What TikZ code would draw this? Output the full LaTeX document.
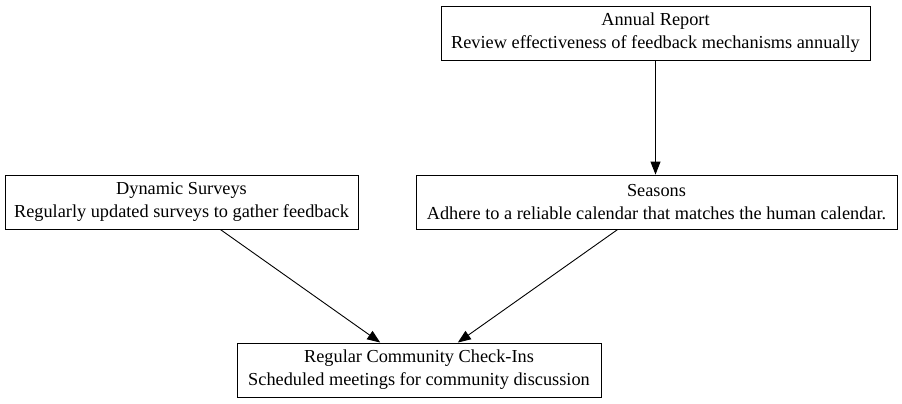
\documentclass[tikz,border=0pt]{standalone}
\usepackage{fontspec}
\setmainfont{Liberation Serif}
\usetikzlibrary{arrows.meta}
\tikzset{
  box/.style={draw, line width=0.9pt, align=center, inner sep=0pt,
    minimum height=54pt, font=\fontsize{18.3}{23}\selectfont},
}
\begin{document}
\begin{tikzpicture}[x=1pt, y=-1pt]
      \useasboundingbox (0,0) rectangle (902,404);
      \draw
        (655.5,33) node[box, minimum width=429pt] (annual){Annual Report\\Review effectiveness of feedback mechanisms annually}
        (181.5,202) node[box, minimum width=353pt] (surveys){Dynamic Surveys\\Regularly updated surveys to gather feedback}
        (656.5,202) node[box, minimum width=481pt] (seasons){Seasons\\Adhere to a reliable calendar that matches the human calendar.}
        (419,370) node[box, minimum width=364pt] (checkins){Regular Community Check-Ins\\Scheduled meetings for community discussion};
      \begin{scope}[-{Triangle[length=13pt, width=10pt]}, line width=0.9pt]
        \draw (annual) to (annual |- seasons.north);
        \draw (surveys) to (checkins);
        \draw (seasons) to (checkins);
      \end{scope}
    \end{tikzpicture}
\end{document}
